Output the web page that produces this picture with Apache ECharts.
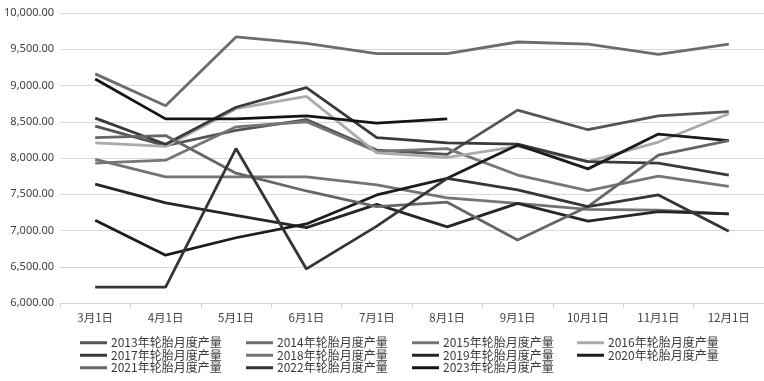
<!DOCTYPE html>
<html>
<head>
<meta charset="utf-8">
<script src="https://cdn.jsdelivr.net/npm/echarts@6/dist/echarts.min.js"></script>
<style>html,body{margin:0;padding:0;background:#fff;}#c{width:764px;height:381px;}</style>
</head>
<body>
<div id="c"></div>
<script>
const categories = ['3月1日','4月1日','5月1日','6月1日','7月1日','8月1日','9月1日','10月1日','11月1日','12月1日'];
const yTicks = { min: 6000, max: 10000, interval: 500 };

const s2013 = [8440, 8170, 8380, 8530, 8110, 8050, 8660, 8390, 8580, 8640];
const s2014 = [9160, 8720, 9670, 9580, 9440, 9440, 9600, 9570, 9430, 9570];
const s2015 = [7930, 7970, 8430, 8500, 8090, 8130, 7765, 7550, 7750, 7610];
const s2016 = [8210, 8160, 8680, 8850, 8070, 8010, 8160, 7950, 8220, 8610];
const s2017 = [8550, 8190, 8700, 8970, 8280, 8210, 8190, 7950, 7930, 7765];
const s2018 = [7980, 7740, 7740, 7740, 7630, 7450, 7375, 7290, 7280, 7230];
const s2019 = [7640, 7380, 7210, 7040, 7360, 7050, 7375, 7130, 7260, 7230];
const s2020 = [7140, 6660, 6900, 7090, 7490, 7720, 8180, 7850, 8330, 8240];
const s2021 = [8280, 8310, 7790, 7545, 7330, 7390, 6870, 7330, 8040, 8240];
const s2022 = [6220, 6220, 8130, 6470, 7060, 7720, 7560, 7330, 7490, 6990];
const s2023 = [9090, 8540, 8540, 8580, 8480, 8540, null, null, null, null];

const names = ['2013年轮胎月度产量','2014年轮胎月度产量','2015年轮胎月度产量','2016年轮胎月度产量',
  '2017年轮胎月度产量','2018年轮胎月度产量','2019年轮胎月度产量','2020年轮胎月度产量',
  '2021年轮胎月度产量','2022年轮胎月度产量','2023年轮胎月度产量'];
const values = [s2013,s2014,s2015,s2016,s2017,s2018,s2019,s2020,s2021,s2022,s2023];
const colors = ['#555555','#6c6c6c','#767676','#ababab','#3a3a3a','#737373','#262626','#1c1c1c','#666666','#353535','#141414'];

const chart = echarts.init(document.getElementById('c'), null, {renderer:'canvas'});
const legendCommon = {
  orient: 'vertical', top: 336.5, itemGap: 0, itemWidth: 27, itemHeight: 3, icon: 'rect',
  textStyle: { fontFamily: 'Noto Sans CJK SC', fontSize: 12, color: '#3a3a3a', lineHeight: 12.5, padding: [0,0,0,-1] },
  padding: 0, selectedMode: false
};
const cols = [[0,4,8],[1,5,9],[2,6,10],[3,7]];
const lefts = [80, 246, 412, 577];
chart.setOption({
  animation: false,
  backgroundColor: '#fff',
  grid: { left: 60, right: -6, top: 13, bottom: 78 },
  xAxis: {
    type: 'category', data: categories, boundaryGap: true,
    axisLine: { lineStyle: { color: '#d4d4d4', width: 1 } },
    axisTick: { show: true, length: 5, lineStyle: { color: '#d4d4d4' } },
    axisLabel: { fontFamily: 'Noto Sans CJK SC', fontSize: 11.5, color: '#404040', margin: 9 }
  },
  yAxis: {
    type: 'value', min: yTicks.min, max: yTicks.max, interval: yTicks.interval,
    axisLine: { show: false }, axisTick: { show: false },
    splitLine: { lineStyle: { color: '#d9d9d9', width: 1 } },
    axisLabel: { fontFamily: 'Noto Sans', fontSize: 11, color: '#404040', margin: 6,
      formatter: v => v.toLocaleString('en-US', { minimumFractionDigits: 2, maximumFractionDigits: 2 }) }
  },
  legend: cols.map((c, i) => Object.assign({}, legendCommon, { left: lefts[i], data: c.map(k => names[k]) })),
  series: values.map((d, i) => ({
    name: names[i], type: 'line', data: d, symbol: 'none', color: colors[i],
    lineStyle: { width: 2.8, color: colors[i] }, connectNulls: false
  }))
});
</script>
</body>
</html>
